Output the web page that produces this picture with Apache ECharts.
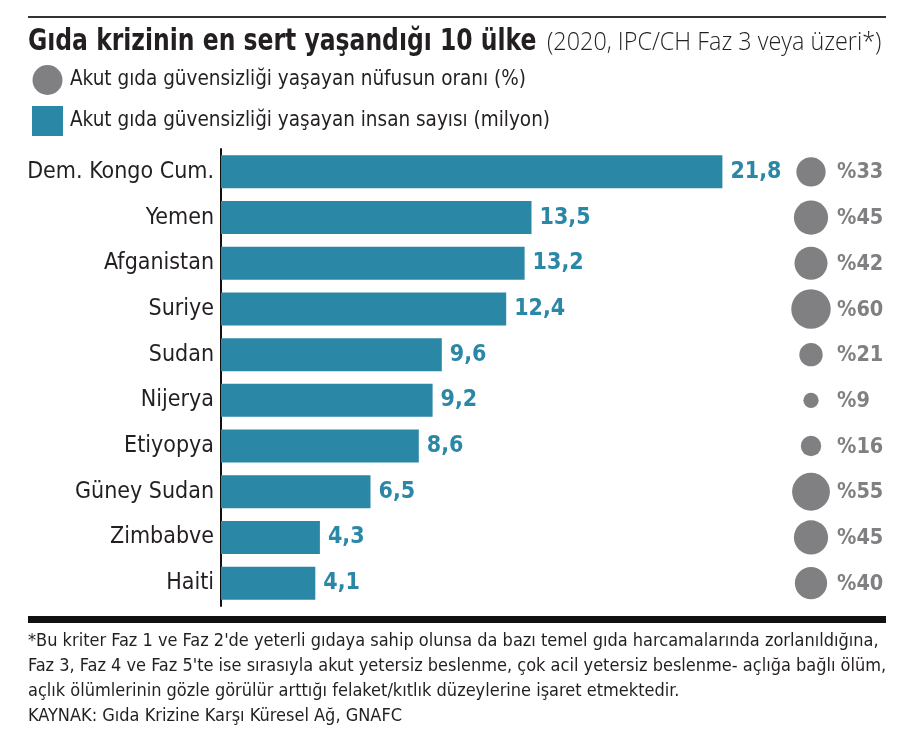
<!DOCTYPE html>
<html><head><meta charset="utf-8">
<script src="https://cdn.jsdelivr.net/npm/echarts@6/dist/echarts.min.js"></script>
<style>html,body{margin:0;padding:0;background:#fff}#c{width:904px;height:738px}</style>
</head><body><div id="c"></div>
<script>
const categories = ['Dem. Kongo Cum.','Yemen','Afganistan','Suriye','Sudan','Nijerya','Etiyopya','Güney Sudan','Zimbabve','Haiti'];
const peopleMillion = [21.8,13.5,13.2,12.4,9.6,9.2,8.6,6.5,4.3,4.1];
const sharePercent = [33,45,42,60,21,9,16,55,45,40];
const seriesNames = ['Akut gıda güvensizliği yaşayan nüfusun oranı (%)','Akut gıda güvensizliği yaşayan insan sayısı (milyon)'];
const titleMain = 'Gıda krizinin en sert yaşandığı 10 ülke';
const titleSub = '(2020, IPC/CH Faz 3 veya üzeri*)';
const footLines = [
 "*Bu kriter Faz 1 ve Faz 2'de yeterli gıdaya sahip olunsa da bazı temel gıda harcamalarında zorlanıldığına,",
 "Faz 3, Faz 4 ve Faz 5'te ise sırasıyla akut yetersiz beslenme, çok acil yetersiz beslenme- açlığa bağlı ölüm,",
 "açlık ölümlerinin gözle görülür arttığı felaket/kıtlık düzeylerine işaret etmektedir.",
 "KAYNAK: Gıda Krizine Karşı Küresel Ağ, GNAFC"
];
const COND = '"DejaVu Sans Condensed","Liberation Sans Narrow",sans-serif';
const TEAL = '#2b87a6', GRAY = '#808083', INK = '#231f20';

const chart = echarts.init(document.getElementById('c'));
chart.setOption({
  animation: false,
  backgroundColor: '#fff',
  legend: {
    orient: 'vertical', left: 27, top: 60, itemWidth: 31, itemHeight: 30, itemGap: 11,
    selectedMode: false,
    textStyle: { fontFamily: COND, fontSize: 20.5, color: INK, padding: [0,0,0,2] },
    data: [{ name: seriesNames[0], icon: 'circle' }, { name: seriesNames[1], icon: 'rect' }]
  },
  grid: [
    { left: 221, width: 575, top: 149, height: 457 },
    { left: 790, width: 42, top: 149, height: 457 }
  ],
  xAxis: [
    { gridIndex: 0, type: 'value', min: 0, max: 25, show: false },
    { gridIndex: 1, type: 'value', min: 0, max: 1, show: false }
  ],
  yAxis: [
    { gridIndex: 0, type: 'category', data: categories, inverse: true,
      axisLine: { show: true, lineStyle: { color: '#111', width: 2 } },
      axisTick: { show: false },
      axisLabel: { fontFamily: COND, fontSize: 23, color: INK, margin: 7 } },
    { gridIndex: 1, type: 'category', data: categories, inverse: true, show: false }
  ],
  series: [
    { name: seriesNames[0], type: 'scatter', xAxisIndex: 1, yAxisIndex: 1,
      data: sharePercent.map((v, i) => [0.5, categories[i], v]),
      symbolSize: (val) => 5.1 * Math.sqrt(val[2]),
      itemStyle: { color: GRAY, opacity: 1 },
      label: { show: true, position: 'inside', align: 'left', offset: [26, 1],
        formatter: (p) => '%' + p.value[2],
        fontFamily: COND, fontWeight: 'bold', fontSize: 21.5, color: GRAY }
    },
    { name: seriesNames[1], type: 'bar', xAxisIndex: 0, yAxisIndex: 0,
      data: peopleMillion, barWidth: 33,
      itemStyle: { color: TEAL },
      label: { show: true, position: 'right', distance: 8,
        formatter: (p) => String(p.value).replace('.', ','),
        fontFamily: COND, fontWeight: 'bold', fontSize: 23, color: TEAL }
    }
  ],
  graphic: [
    { type: 'rect', shape: { x: 28, y: 16, width: 858, height: 2 }, style: { fill: '#333' } },
    { type: 'text', x: 28, y: 42, scaleX: 0.87,
      style: { text: titleMain, fontFamily: COND, fontWeight: 'bold', fontSize: 30, fill: INK, verticalAlign: 'middle' } },
    { type: 'text', x: 547, y: 43, scaleX: 0.935,
      style: { text: titleSub, fontFamily: '"Open Sans",sans-serif', fontWeight: 300, fontSize: 25, fill: INK, verticalAlign: 'middle' } },
    { type: 'rect', shape: { x: 28, y: 616, width: 858, height: 7 }, style: { fill: '#111' } },
    { type: 'text', x: 28, y: 629,
      style: { text: footLines.join('\n'), fontFamily: COND, fontSize: 18, lineHeight: 25, fill: INK } }
  ]
});
</script></body></html>
